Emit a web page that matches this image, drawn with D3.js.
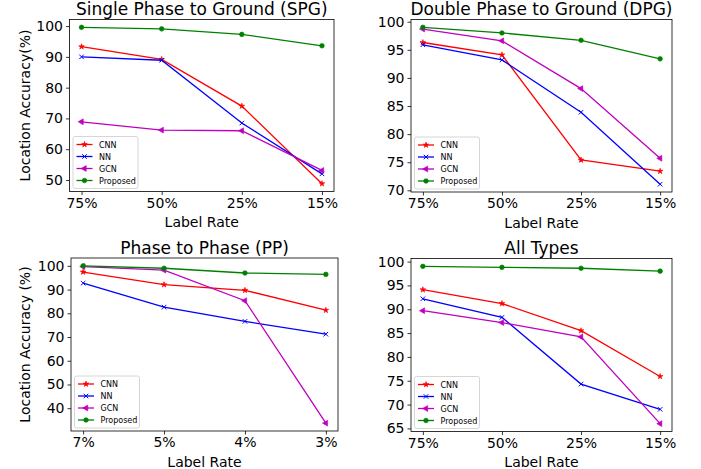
<!DOCTYPE html>
<html>
<head>
<meta charset="utf-8">
<script src="https://cdn.jsdelivr.net/npm/d3@7"></script>
<style>
  body { margin: 0; background: #fff; }
  svg { display: block; font-family: "DejaVu Sans", sans-serif; }
</style>
</head>
<body>
<svg id="chart" width="701" height="469"></svg>
<script>
// series names & styles shared by every panel
const seriesNames = ["CNN", "NN", "GCN", "Proposed"];
const seriesColors = ["#ff0000", "#0000ff", "#bf00bf", "#008000"];

// x tick labels
const rateLabelsA = ["75%", "50%", "25%", "15%"];
const rateLabelsPP = ["7%", "5%", "4%", "3%"];

// values, one array per series (order: x ticks)
const spgCNN = [93.3, 89.2, 74.0, 48.8];
const spgNN = [90.0, 88.9, 68.5, 52.0];
const spgGCN = [68.9, 66.2, 66.0, 53.1];
const spgProposed = [99.6, 99.1, 97.3, 93.6];

const dpgCNN = [96.3, 94.1, 75.4, 73.4];
const dpgNN = [95.9, 93.2, 83.9, 71.1];
const dpgGCN = [98.7, 96.6, 88.1, 75.7];
const dpgProposed = [99.0, 98.0, 96.7, 93.4];

const ppCNN = [97.4, 92.1, 89.7, 81.3];
const ppNN = [92.7, 82.6, 76.6, 71.2];
const ppGCN = [99.7, 98.2, 85.3, 33.7];
const ppProposed = [100.0, 99.0, 97.0, 96.4];

const allCNN = [94.1, 91.2, 85.5, 75.9];
const allNN = [92.2, 88.3, 74.3, 69.0];
const allGCN = [89.7, 87.2, 84.2, 66.0];
const allProposed = [99.0, 98.8, 98.6, 98.0];

const panels = [
  { title: "Single Phase to Ground (SPG)", labels: rateLabelsA, ylabel: "Location Accuracy(%)", step: 10,
    series: [spgCNN, spgNN, spgGCN, spgProposed], box: [69.5, 334, 19.5, 191.5] },
  { title: "Double Phase to Ground (DPG)", labels: rateLabelsA, ylabel: null, step: 5,
    series: [dpgCNN, dpgNN, dpgGCN, dpgProposed], box: [411, 672, 19.5, 192] },
  { title: "Phase to Phase (PP)", labels: rateLabelsPP, ylabel: "Location Accuracy (%)", step: 10,
    series: [ppCNN, ppNN, ppGCN, ppProposed], box: [71, 338, 258, 431] },
  { title: "All Types", labels: rateLabelsA, ylabel: null, step: 5,
    series: [allCNN, allNN, allGCN, allProposed], box: [411, 672, 258.5, 431.5] }
];

const svg = d3.select("#chart");

// marker shapes: star, x, triangle-left, circle
function markerPath(i) {
  if (i === 0) return d3.symbol(d3.symbolStar, 10)();
  if (i === 1) return d3.symbol(d3.symbolX, 15)();
  if (i === 2) return d3.symbol(d3.symbolTriangle, 15)();
  return d3.symbol(d3.symbolCircle, 17)();
}

function drawMarker(sel, i, x, y) {
  const m = sel.append("path")
    .attr("d", markerPath(i))
    .attr("transform", `translate(${x},${y})` + (i === 2 ? " rotate(-90)" : ""));
  if (i === 1) {
    m.attr("fill", "none").attr("stroke", seriesColors[i]).attr("stroke-width", 1);
  } else {
    m.attr("fill", seriesColors[i]).attr("stroke", seriesColors[i]).attr("stroke-width", 0.6);
  }
}

panels.forEach(p => {
  const [x0, x1, y0, y1] = p.box;
  const g = svg.append("g");

  // matplotlib-like auto limits: 5% margin
  const all = p.series.flat();
  const lo = d3.min(all), hi = d3.max(all), pad = (hi - lo) * 0.05;

  const x = d3.scalePoint().domain(p.labels).range([x0, x1]).padding(0.15);
  const y = d3.scaleLinear().domain([lo - pad, hi + pad]).range([y1, y0]);

  const yTicks = d3.range(Math.ceil((lo - pad) / p.step) * p.step, hi + pad, p.step);

  // lines + markers
  p.series.forEach((vals, i) => {
    const line = d3.line().x((d, j) => x(p.labels[j])).y(d => y(d));
    g.append("path").datum(vals)
      .attr("d", line)
      .attr("fill", "none")
      .attr("stroke", seriesColors[i])
      .attr("stroke-width", 1.3);
    const mg = g.append("g");
    vals.forEach((v, j) => drawMarker(mg, i, x(p.labels[j]), y(v)));
  });

  // axes
  const xAxis = d3.axisBottom(x).tickSize(3.5).tickPadding(3);
  const yAxis = d3.axisLeft(y).tickValues(yTicks).tickFormat(d3.format("d")).tickSize(3.5).tickPadding(3);

  const gx = g.append("g").attr("transform", `translate(0,${y1})`).call(xAxis);
  const gy = g.append("g").attr("transform", `translate(${x0},0)`).call(yAxis);
  [gx, gy].forEach(a => {
    a.select(".domain").remove();
    a.selectAll("line").attr("stroke", "#000").attr("stroke-width", 0.8);
    a.selectAll("text").attr("font-size", 14).attr("fill", "#000")
      .attr("font-family", "DejaVu Sans");
  });

  // frame
  g.append("rect")
    .attr("x", x0).attr("y", y0)
    .attr("width", x1 - x0).attr("height", y1 - y0)
    .attr("fill", "none").attr("stroke", "#000").attr("stroke-width", 0.8);

  // title
  g.append("text")
    .attr("x", (x0 + x1) / 2).attr("y", y0 - 4.5)
    .attr("text-anchor", "middle").attr("font-size", 17).text(p.title);

  // x label
  g.append("text")
    .attr("x", (x0 + x1) / 2).attr("y", y1 + 35.5)
    .attr("text-anchor", "middle").attr("font-size", 14).text("Label Rate");

  // y label
  if (p.ylabel) {
    g.append("text")
      .attr("transform", `translate(30,${(y0 + y1) / 2}) rotate(-90)`)
      .attr("text-anchor", "middle").attr("font-size", 14).text(p.ylabel);
  }

  // legend, lower left
  const lw = 65, lh = 52;
  const lx = x0 + 3.5, ly = y1 - 3 - lh;
  const lg = g.append("g").attr("transform", `translate(${lx},${ly})`);
  lg.append("rect")
    .attr("width", lw).attr("height", lh).attr("rx", 2)
    .attr("fill", "#fff").attr("fill-opacity", 0.8)
    .attr("stroke", "#cccccc").attr("stroke-width", 0.8);
  seriesNames.forEach((name, i) => {
    const ry = 8 + i * 12;
    lg.append("line")
      .attr("x1", 3.5).attr("x2", 19.5).attr("y1", ry).attr("y2", ry)
      .attr("stroke", seriesColors[i]).attr("stroke-width", 1.3);
    drawMarker(lg, i, 11.5, ry);
    lg.append("text")
      .attr("x", 26).attr("y", ry + 3)
      .attr("font-size", 8).attr("fill", "#000").text(name);
  });
});
</script>
</body>
</html>
